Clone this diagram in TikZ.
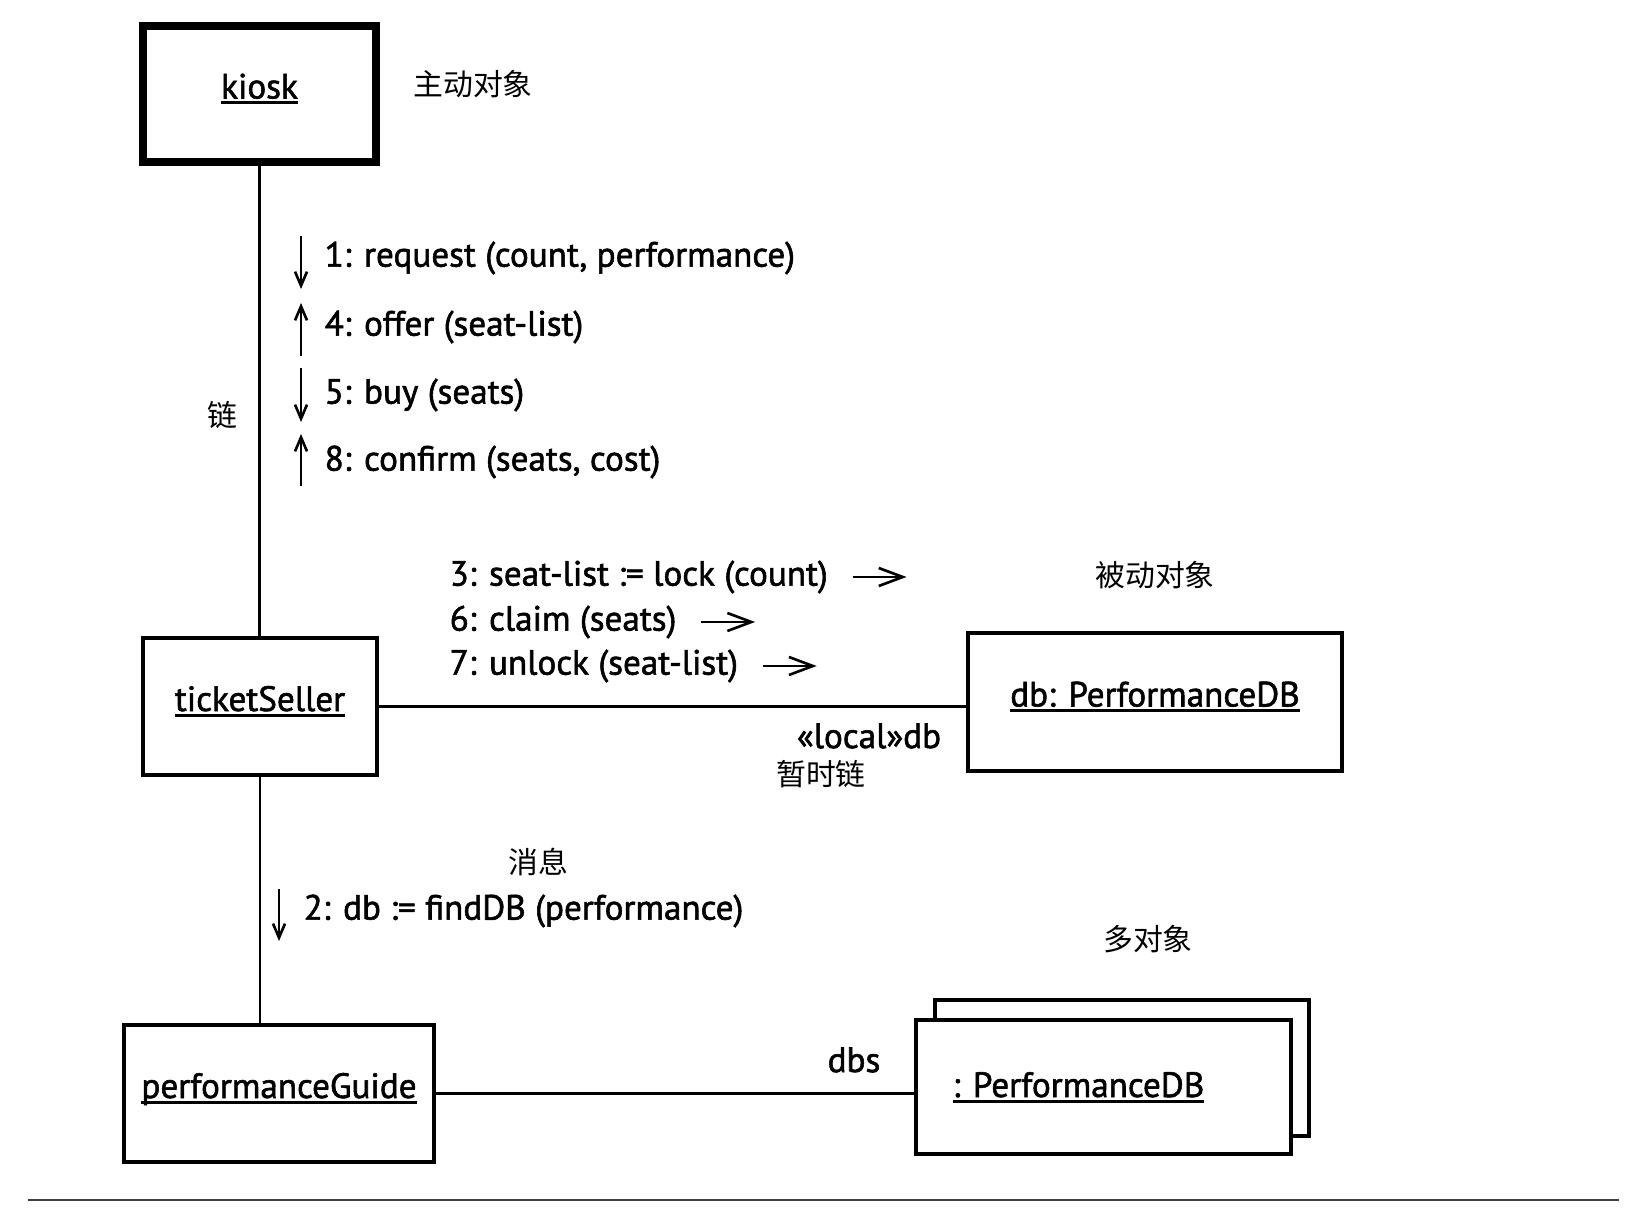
\documentclass[tikz,border=0pt]{standalone}
\usepackage{fontspec}
\setmainfont{PT Sans}[FakeBold=1.6]
\newfontfamily\cjk{Noto Sans CJK SC}
\usetikzlibrary{arrows.meta}
\newcommand{\objname}[1]{{\setbox0\hbox{#1}\rlap{\rule[-1.6pt]{\wd0}{0.8pt}}\box0}}

\begin{document}
\begin{tikzpicture}[x=0.1mm,y=-0.1mm,>={Straight Barb[length=1.4mm,width=1.2mm]},
obj/.style={draw,line width=1pt,fill=white,inner sep=0pt,text height=2.6mm,text depth=1.7mm,font=\fontsize{10}{12}\selectfont},
link/.style={line width=0.8pt},
msg/.style={anchor=west,inner sep=0pt,font=\fontsize{10}{12}\selectfont},
lbl/.style={inner sep=0pt,font=\fontsize{10}{12}\selectfont},
note/.style={inner sep=0pt,font=\cjk\fontsize{8.5}{10}\selectfont},
flow/.style={->,line width=0.75pt},
hflow/.style={-{Straight Barb[length=2.4mm,width=1.8mm]},line width=0.75pt}]
\useasboundingbox (0,0) rectangle (1640,1220);
\node[obj,line width=2.3pt,minimum width=23.3mm,minimum height=13.6mm] (kiosk) at (259.5,94) {\objname{kiosk}};
\node[obj,minimum width=23.45mm,minimum height=13.75mm] (seller) at (260,706.5) {\objname{ticketSeller}};
\node[obj,minimum width=37.45mm,minimum height=13.85mm] (db) at (1155,702) {\objname{db: PerformanceDB}};
\node[obj,minimum width=31.05mm,minimum height=13.75mm] (guide) at (279,1093.5) {\objname{performanceGuide}};
\node[obj,minimum width=37.45mm,minimum height=13.65mm] (dbsback) at (1122,1068) {};
\node[obj,minimum width=37.55mm,minimum height=13.45mm,text depth=0.6mm] (dbs) at (1103.5,1087) {\objname{: PerformanceDB}\hspace*{5mm}};
\draw[link] (kiosk.south) -- (kiosk.south |- seller.north);
\draw[link] (seller.south) -- (seller.south |- guide.north);
\draw[link] (seller.east) -- (seller.east -| db.west);
\draw[link] (guide.east) -- (guide.east -| dbs.west);
\node[note] (active) at (473,84) {主动对象};
\node[note] (linkname) at (222,415) {链};
\node[note] (passive) at (1155,575) {被动对象};
\node[lbl] (local) at (869,736) {«local»db};
\node[note] (temp) at (821,774) {暂时链};
\node[note] (message) at (538,862) {消息};
\node[note] (multi) at (1148,939) {多对象};
\node[lbl] (dbsrole) at (854,1060) {dbs};
\node[msg] (m1) at (324,258) {1: request (count, performance)};
\node[msg] (m4) at (324,327) {4: offer (seat-list)};
\node[msg] (m5) at (324,395) {5: buy (seats)};
\node[msg] (m8) at (324,462) {8: confirm (seats, cost)};
\node[msg] (m3) at (449,577) {3: seat-list := lock (count)};
\node[msg] (m6) at (449,622) {6: claim (seats)};
\node[msg] (m7) at (449,666) {7: unlock (seat-list)};
\node[msg] (m2) at (303,911) {2: db := findDB (performance)};
\draw[flow] ([shift={(-2.3mm,2.2mm)}]m1.west) -- ([shift={(-2.3mm,-3.1mm)}]m1.west);
\draw[flow] ([shift={(-2.3mm,-2.9mm)}]m4.west) -- ([shift={(-2.3mm,2.4mm)}]m4.west);
\draw[flow] ([shift={(-2.3mm,2.7mm)}]m5.west) -- ([shift={(-2.3mm,-2.7mm)}]m5.west);
\draw[flow] ([shift={(-2.3mm,-2.4mm)}]m8.west) -- ([shift={(-2.3mm,2.8mm)}]m8.west);
\draw[flow] ([shift={(-2.4mm,2.2mm)}]m2.west) -- ([shift={(-2.4mm,-3mm)}]m2.west);
\draw[hflow] ([xshift=2.4mm]m3.east) -- ([xshift=7.8mm]m3.east);
\draw[hflow] ([xshift=2.4mm]m6.east) -- ([xshift=7.8mm]m6.east);
\draw[hflow] ([xshift=2.4mm]m7.east) -- ([xshift=7.8mm]m7.east);
\draw[black!75,line width=0.6pt] (28,1200) -- (1619,1200);
\end{tikzpicture}
\end{document}
